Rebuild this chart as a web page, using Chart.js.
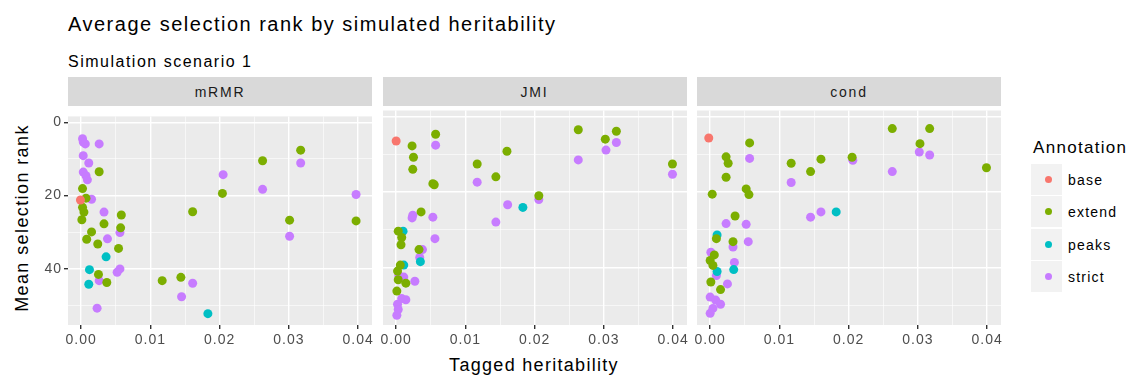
<!DOCTYPE html>
<html>
<head>
<meta charset="utf-8">
<script src="https://cdn.jsdelivr.net/npm/chart.js@4/dist/chart.umd.min.js"></script>
<style>
  body { margin: 0; background: #fff; width: 1131px; height: 377px; position: relative; overflow: hidden;
         font-family: "Liberation Sans", Arial, sans-serif; }
  .txt { position: absolute; white-space: nowrap; }
  canvas { position: absolute; }
  .strip { position: absolute; background: #d9d9d9; color: #1a1a1a; font-size: 14px; letter-spacing: 1.8px;
           display: flex; align-items: center; justify-content: center; }
  .key { position: absolute; width: 31px; height: 31px; background: #f2f2f2; }
  .key span { position: absolute; left: 14px; top: 12px; width: 7px; height: 7px; border-radius: 50%; }
</style>
</head>
<body>
<div class="txt" style="left:68px;top:14px;font-size:20px;line-height:20px;letter-spacing:1.5px;">Average selection rank by simulated heritability</div>
<div class="txt" style="left:68px;top:54px;font-size:16px;line-height:16px;letter-spacing:1.5px;">Simulation scenario 1</div>
<div class="txt" style="left:22px;top:218px;font-size:18px;line-height:18px;letter-spacing:1.4px;transform:translate(-50%,-50%) rotate(-90deg);">Mean selection rank</div>
<div class="txt" style="left:534px;top:356px;font-size:18px;line-height:18px;letter-spacing:1.3px;transform:translateX(-50%);">Tagged heritability</div>
<div id="legend"></div>

<canvas id="p0" width="354" height="249"></canvas>
<canvas id="p1" width="354" height="249"></canvas>
<canvas id="p2" width="354" height="249"></canvas>

<script>
const methods = ["mRMR", "JMI", "cond"];
const annotations = ["base", "extend", "peaks", "strict"];
const colours = ["#F8766D", "#7CAE00", "#00BFC4", "#C77CFF"];

const xMajor = [0, 0.01, 0.02, 0.03, 0.04];
const xLabels = ["0.00", "0.01", "0.02", "0.03", "0.04"];
const xGrid = [0, 0.005, 0.01, 0.015, 0.02, 0.025, 0.03, 0.035, 0.04];
const yMajor = [0, 20, 40];
const yLabels = ["0", "20", "40"];
const yGrid = [0, 10, 20, 30, 40, 50];

// [tagged heritability, mean selection rank]
const mrmrBase = [[-0.0001, 21.2]];
const mrmrExtend = [
  [0.0026, 13.5], [0.0002, 18.1], [0.0007, 20.7], [0.0002, 23.2], [0.0004, 24.5], [0.0001, 26.6],
  [0.0015, 29.9], [0.0008, 31.9], [0.0024, 33.2], [0.0033, 27.7], [0.0058, 25.3], [0.0057, 28.8],
  [0.0054, 34.4], [0.0025, 41.5], [0.0037, 43.7], [0.0117, 43.2], [0.0144, 42.3], [0.0161, 24.4],
  [0.0204, 19.4], [0.0262, 10.5], [0.0317, 7.6], [0.0301, 26.7], [0.0397, 26.9]
];
const mrmrPeaks = [[0.0036, 36.7], [0.0012, 40.2], [0.0011, 44.2], [0.0183, 52.2]];
const mrmrStrict = [
  [0.0002, 4.5], [0.0003, 5.4], [0.0006, 5.9], [0.0026, 5.9], [0.0003, 9.1], [0.0011, 11.1],
  [0.0003, 13.6], [0.0007, 14.6], [0.0009, 15.7], [0.0015, 21.0], [0.0033, 24.5], [0.0038, 31.8],
  [0.0056, 30.1], [0.0056, 40.0], [0.0052, 40.9], [0.0026, 43.2], [0.0023, 50.7], [0.0205, 14.3],
  [0.0262, 18.3], [0.0317, 11.1], [0.0301, 31.1], [0.0397, 19.7], [0.0161, 43.9], [0.0145, 47.6]
];

const jmiBase = [[0.0000, 6.5]];
const jmiExtend = [
  [0.0057, 4.7], [0.0023, 7.8], [0.0025, 10.8], [0.0024, 14.0], [0.0053, 17.8], [0.0055, 18.1],
  [0.0117, 12.6], [0.0160, 9.2], [0.0144, 16.0], [0.0206, 21.0], [0.0263, 3.5], [0.0302, 6.0],
  [0.0318, 3.9], [0.0399, 12.6], [0.0036, 25.3], [0.0003, 30.4], [0.0008, 32.1], [0.0007, 34.0],
  [0.0033, 35.3], [0.0006, 39.4], [0.0002, 41.0], [0.0003, 43.3], [0.0014, 44.2], [0.0001, 46.3]
];
const jmiPeaks = [[0.0010, 30.4], [0.0183, 24.1], [0.0035, 38.5], [0.0011, 39.4]];
const jmiStrict = [
  [0.0057, 7.6], [0.0263, 11.5], [0.0303, 8.9], [0.0318, 6.9], [0.0399, 15.3], [0.0117, 17.4],
  [0.0161, 23.4], [0.0206, 22.0], [0.0144, 28.0], [0.0023, 26.9], [0.0024, 26.2], [0.0053, 26.7],
  [0.0056, 32.4], [0.0034, 37.4], [0.0038, 35.3], [0.0011, 42.6], [0.0027, 43.7], [0.0008, 48.3],
  [0.0014, 48.6], [0.0002, 49.8], [0.0003, 51.2], [0.0001, 52.7], [0.0004, 42.2]
];

const condBase = [[-0.0002, 5.7]];
const condExtend = [
  [0.0057, 7.0], [0.0023, 10.7], [0.0026, 12.4], [0.0023, 16.1], [0.0003, 20.6], [0.0052, 19.2],
  [0.0056, 20.7], [0.0117, 12.4], [0.0160, 11.3], [0.0145, 14.6], [0.0205, 10.8], [0.0263, 3.2],
  [0.0303, 7.2], [0.0317, 3.2], [0.0399, 13.6], [0.0036, 26.4], [0.0009, 32.4], [0.0033, 33.2],
  [0.0006, 36.7], [0.0000, 38.2], [0.0004, 39.5], [0.0001, 43.9], [0.0015, 45.9]
];
const condPeaks = [[0.0010, 31.4], [0.0182, 25.3], [0.0034, 40.6], [0.0010, 41.1]];
const condStrict = [
  [0.0206, 11.6], [0.0057, 11.1], [0.0117, 17.5], [0.0263, 14.6], [0.0302, 9.4], [0.0317, 10.2],
  [0.0023, 28.4], [0.0052, 28.6], [0.0055, 33.2], [0.0145, 26.7], [0.0160, 25.3], [0.0033, 34.6],
  [0.0035, 38.7], [0.0001, 36.0], [0.0009, 42.2], [0.0025, 44.4], [0.0000, 47.9], [0.0008, 48.7],
  [0.0015, 49.8], [0.0004, 50.9], [0.0000, 52.2]
];

const panelData = [
  [mrmrBase, mrmrExtend, mrmrPeaks, mrmrStrict],
  [jmiBase, jmiExtend, jmiPeaks, jmiStrict],
  [condBase, condExtend, condPeaks, condStrict]
];

const panelLeft = [68, 382.5, 697];
const panelWidth = 304;
const font = "'Liberation Sans', Arial, sans-serif";

// grey panel fill behind the grid; also widens tick label spacing a little
const panelBg = {
  id: "panelBg",
  beforeLayout(chart) { chart.ctx.letterSpacing = "1px"; },
  beforeDraw(chart) {
    const a = chart.chartArea, g = chart.ctx;
    g.letterSpacing = "1px";
    g.save();
    g.fillStyle = "#ebebeb";
    g.fillRect(a.left, a.top, a.right - a.left, a.bottom - a.top);
    g.restore();
  }
};

function drawPanel(i) {
  const canvas = document.getElementById("p" + i);
  canvas.style.left = (panelLeft[i] - 40) + "px";
  canvas.style.top = "106px";

  const strip = document.createElement("div");
  strip.className = "strip";
  strip.style.left = panelLeft[i] + "px";
  strip.style.top = "77px";
  strip.style.width = panelWidth + "px";
  strip.style.height = "29px";
  strip.textContent = methods[i];
  document.body.appendChild(strip);

  const datasets = annotations.map((a, k) => ({
    label: a,
    data: panelData[i][k].map(p => ({ x: p[0], y: p[1] })),
    backgroundColor: colours[k],
    borderWidth: 0,
    pointRadius: 4.5,
    pointHoverRadius: 4.5
  }));

  new Chart(canvas, {
    type: "scatter",
    data: { datasets: datasets },
    options: {
      responsive: false,
      animation: false,
      events: [],
      layout: { padding: { right: 10, top: 0, left: 0, bottom: 0 } },
      plugins: { legend: { display: false }, tooltip: { enabled: false } },
      scales: {
        x: {
          type: "linear",
          min: -0.0019,
          max: 0.042,
          afterBuildTicks: s => { s.ticks = xGrid.map(v => ({ value: v })); },
          afterFit: s => { s.height = 30; },
          border: { display: false },
          grid: {
            color: "#ffffff",
            lineWidth: c => xMajor.includes(c.tick.value) ? 1.4 : 0.6,
            tickColor: c => xMajor.includes(c.tick.value) ? "#333333" : "rgba(0,0,0,0)",
            tickLength: 4
          },
          ticks: {
            autoSkip: false,
            maxRotation: 0,
            padding: 3,
            color: "#4d4d4d",
            font: { family: font, size: 14 },
            callback: v => { const j = xMajor.indexOf(v); return j < 0 ? "" : xLabels[j]; }
          }
        },
        y: {
          type: "linear",
          reverse: true,
          min: -1.6,
          max: 55.3,
          afterBuildTicks: s => { s.ticks = yGrid.map(v => ({ value: v })); },
          afterFit: s => { s.width = 40; },
          border: { display: false },
          grid: {
            color: "#ffffff",
            lineWidth: c => yMajor.includes(c.tick.value) ? 1.4 : 0.6,
            tickColor: c => (i === 0 && yMajor.includes(c.tick.value)) ? "#333333" : "rgba(0,0,0,0)",
            tickLength: 4
          },
          ticks: {
            display: i === 0,
            autoSkip: false,
            padding: 2,
            color: "#4d4d4d",
            font: { family: font, size: 14 },
            callback: v => { const j = yMajor.indexOf(v); return j < 0 ? "" : yLabels[j]; }
          }
        }
      }
    },
    plugins: [panelBg]
  });
}

methods.forEach((m, i) => drawPanel(i));

// legend
const legend = document.getElementById("legend");
const lt = document.createElement("div");
lt.className = "txt";
lt.style.cssText = "left:1033px;top:139px;font-size:17px;line-height:17px;letter-spacing:1.3px;";
lt.textContent = "Annotation";
legend.appendChild(lt);
annotations.forEach((a, k) => {
  const top = 164 + k * 32.4;
  const key = document.createElement("div");
  key.className = "key";
  key.style.left = "1031px";
  key.style.top = top + "px";
  const dot = document.createElement("span");
  dot.style.background = colours[k];
  key.appendChild(dot);
  legend.appendChild(key);
  const lab = document.createElement("div");
  lab.className = "txt";
  lab.style.cssText = "left:1068px;font-size:14px;line-height:14px;letter-spacing:1.2px;color:#000;";
  lab.style.top = (top + 9) + "px";
  lab.textContent = a;
  legend.appendChild(lab);
});
</script>
</body>
</html>
